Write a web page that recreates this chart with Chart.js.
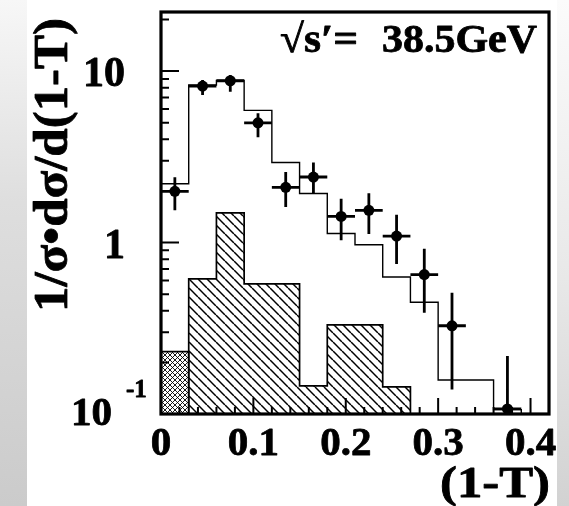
<!DOCTYPE html>
<html><head><meta charset="utf-8">
<script src="https://cdn.jsdelivr.net/npm/chart.js@4/dist/chart.umd.min.js"></script>
<style>
html,body{margin:0;padding:0;background:#fff;}
#wrap{position:relative;width:569px;height:506px;overflow:hidden;background:#fff;}
#lstrip{position:absolute;left:0;top:0;width:27px;height:506px;background:linear-gradient(to bottom,#f7f7f7 0%,#dedede 40%,#cbcbcb 100%);}
#rstrip{position:absolute;right:0;top:0;width:12px;height:506px;background:linear-gradient(to bottom,#fbfbfb 0%,#e8e8e8 55%,#d2d2d2 100%);}
canvas{position:absolute;left:0;top:0;}
</style></head><body>
<div id="wrap"><div id="lstrip"></div><div id="rstrip"></div><canvas id="c" width="569" height="506"></canvas></div>
<script>
// ---- data ----
const binEdges   = [0,0.03,0.06,0.09,0.12,0.15,0.18,0.21,0.24,0.27,0.30,0.33,0.36,0.39,0.42];
const mcValues   = [2.2,8.3,8.8,5.9,2.93,1.93,1.13,0.97,0.63,0.448,0.158,0.158,0.106,null];
const bgValues   = [null,0.614,1.49,0.574,0.574,0.146,0.331,0.331,0.144,null,null,null,null,null];
const bgCrossValues = [0.231,null,null,null,null,null,null,null,null,null,null,null,null,null];
const dataValues = [1.99,8.17,8.78,4.99,2.10,2.41,1.42,1.54,1.09,0.65,0.327,null,0.107,null];
const dataHigh   = [2.40,8.86,9.47,5.68,2.58,2.93,1.80,1.94,1.45,0.92,0.51,null,0.218,null];
const dataLow    = [1.54,7.24,7.57,4.11,1.61,1.93,1.03,1.12,0.75,0.39,0.139,null,0.09,null];
const xTicks      = [0,0.1,0.2,0.3,0.4];
const xTickLabels = ['0','0.1','0.2','0.3','0.4'];
const yTicks      = [10,1,0.1];
const yTickLabels = ['10','1','10'];
const yTickExp    = ['','','-1'];
const annotation  = ['\u221As\u2032=','38.5GeV'];
const xTitle = '(1-T)';
const yTitle = '1/\u03C3\u2022d\u03C3/d(1-T)';
const Y_MIN = 0.1, Y_MAX = 22.1, X_MIN = 0, X_MAX = 0.42;

// ---- helpers ----
function stepPoints(values, floor){
  const pts=[]; let open=false;
  for(let i=0;i<values.length;i++){
    const v=values[i];
    if(v==null){ if(open){pts.push({x:binEdges[i],y:floor}); open=false;} continue; }
    if(!open){pts.push({x:binEdges[i],y:floor}); open=true;}
    pts.push({x:binEdges[i],y:v},{x:binEdges[i+1],y:v});
  }
  if(open) pts.push({x:binEdges[values.length],y:floor});
  return pts;
}
function hatchPattern(s, lw, cross){
  const c=document.createElement('canvas'); c.width=s; c.height=s;
  const g=c.getContext('2d'); g.strokeStyle='#000'; g.lineWidth=lw;
  for(const o of [-s,0,s]){
    g.beginPath(); g.moveTo(o,0); g.lineTo(o+s,s); g.stroke();
    if(cross){ g.beginPath(); g.moveTo(o+s,0); g.lineTo(o,s); g.stroke(); }
  }
  const ctx=document.getElementById('c').getContext('2d');
  return ctx.createPattern(c,'repeat');
}
const dataPts=[];
dataValues.forEach((v,i)=>{ if(v!=null) dataPts.push({x:(binEdges[i]+binEdges[i+1])/2,y:v}); });

const FONT='"Liberation Serif","Times New Roman",serif';
function boldText(ctx, txt, px, py){ ctx.fillText(txt,px,py); ctx.strokeText(txt,px,py); }
function fitText(ctx, txt, left, baseline, width, size){
  ctx.font='bold '+size+'px '+FONT;
  const w=ctx.measureText(txt).width;
  ctx.save(); ctx.translate(left, baseline); ctx.scale(width/w,1);
  ctx.textAlign='left'; ctx.textBaseline='alphabetic'; boldText(ctx,txt,0,0); ctx.restore();
}

const errorBars={id:'errorBars',afterDatasetsDraw(chart){
  const {ctx,chartArea:a}=chart, x=chart.scales.x, y=chart.scales.y;
  ctx.save(); ctx.beginPath(); ctx.rect(a.left,a.top,a.right-a.left,a.bottom-a.top); ctx.clip();
  ctx.strokeStyle='#000'; ctx.lineWidth=2.8; ctx.beginPath();
  dataValues.forEach((v,i)=>{
    if(v==null) return;
    const cx=x.getPixelForValue((binEdges[i]+binEdges[i+1])/2), py=y.getPixelForValue(v);
    ctx.moveTo(x.getPixelForValue(binEdges[i]),py); ctx.lineTo(x.getPixelForValue(binEdges[i+1]),py);
    ctx.moveTo(cx,y.getPixelForValue(dataHigh[i])); ctx.lineTo(cx,y.getPixelForValue(dataLow[i]));
  });
  ctx.stroke(); ctx.restore();
}};

const decor={id:'decor',afterDraw(chart){
  const {ctx,chartArea:a}=chart, x=chart.scales.x, y=chart.scales.y;
  ctx.save(); ctx.strokeStyle='#000'; ctx.fillStyle='#000';
  // inward ticks
  ctx.lineWidth=2; ctx.beginPath();
  for(let k=1;k*0.02<=X_MAX+1e-9;k++){
    const v=k*0.02, px=x.getPixelForValue(v);
    const major=(k%5===0);
    ctx.moveTo(px,a.bottom); ctx.lineTo(px,a.bottom-(major?16:7));
  }
  for(const dec of [0.1,1,10]){
    for(let m=1;m<=9;m++){
      const v=m*dec; if(v<=Y_MIN*1.0001||v>Y_MAX) continue;
      const py=y.getPixelForValue(v);
      ctx.moveTo(a.left,py); ctx.lineTo(a.left+(m===1?18:8),py);
    }
  }
  ctx.stroke();
  // frame
  ctx.lineWidth=3.2; ctx.strokeRect(a.left,a.top,a.right-a.left,a.bottom-a.top);
  // text
  ctx.lineWidth=0.8; ctx.lineJoin='round';
  ctx.font='bold 41px '+FONT; ctx.textAlign='center'; ctx.textBaseline='alphabetic';
  xTicks.forEach((v,i)=>boldText(ctx,xTickLabels[i],x.getPixelForValue(v),455));
  ctx.textAlign='right';
  yTicks.forEach((v,i)=>{
    const py=y.getPixelForValue(v);
    if(yTickExp[i]){
      ctx.font='bold 41px '+FONT; boldText(ctx,yTickLabels[i],112,py+11);
      ctx.font='bold 25px '+FONT; ctx.textAlign='left'; boldText(ctx,yTickExp[i],126,py-17); ctx.textAlign='right';
    } else {
      ctx.font='bold 42px '+FONT; boldText(ctx,yTickLabels[i],125,py+15);
    }
  });
  fitText(ctx,xTitle,440,497,110,44);
  ctx.save(); ctx.translate(67,312); ctx.rotate(-Math.PI/2);
  fitText(ctx,yTitle,0,0,294,48); ctx.restore();
  fitText(ctx,annotation[0],280,52,78,40);
  fitText(ctx,annotation[1],382,52,155,40);
  ctx.restore();
}};

new Chart(document.getElementById('c'),{
  type:'scatter',
  data:{datasets:[
    {label:'bg',data:stepPoints(bgValues,Y_MIN),showLine:true,fill:'start',backgroundColor:hatchPattern(9,1.5,false),borderColor:'#000',borderWidth:1.7,pointRadius:0,tension:0},
    {label:'bg2',data:stepPoints(bgCrossValues,Y_MIN),showLine:true,fill:'start',backgroundColor:hatchPattern(5,0.9,true),borderColor:'#000',borderWidth:1.7,pointRadius:0,tension:0},
    {label:'mc',data:stepPoints(mcValues,Y_MIN),showLine:true,fill:false,borderColor:'#000',borderWidth:1.4,pointRadius:0,tension:0},
    {label:'data',data:dataPts,showLine:false,pointRadius:5.5,pointBackgroundColor:'#000',pointBorderColor:'#000',pointBorderWidth:0}
  ]},
  options:{
    responsive:false,animation:false,
    layout:{padding:{left:161,right:20,top:12,bottom:92}},
    plugins:{legend:{display:false},tooltip:{enabled:false}},
    scales:{
      x:{type:'linear',min:X_MIN,max:X_MAX,display:false},
      y:{type:'logarithmic',min:Y_MIN,max:Y_MAX,display:false}
    }
  },
  plugins:[errorBars,decor]
});
</script></body></html>
